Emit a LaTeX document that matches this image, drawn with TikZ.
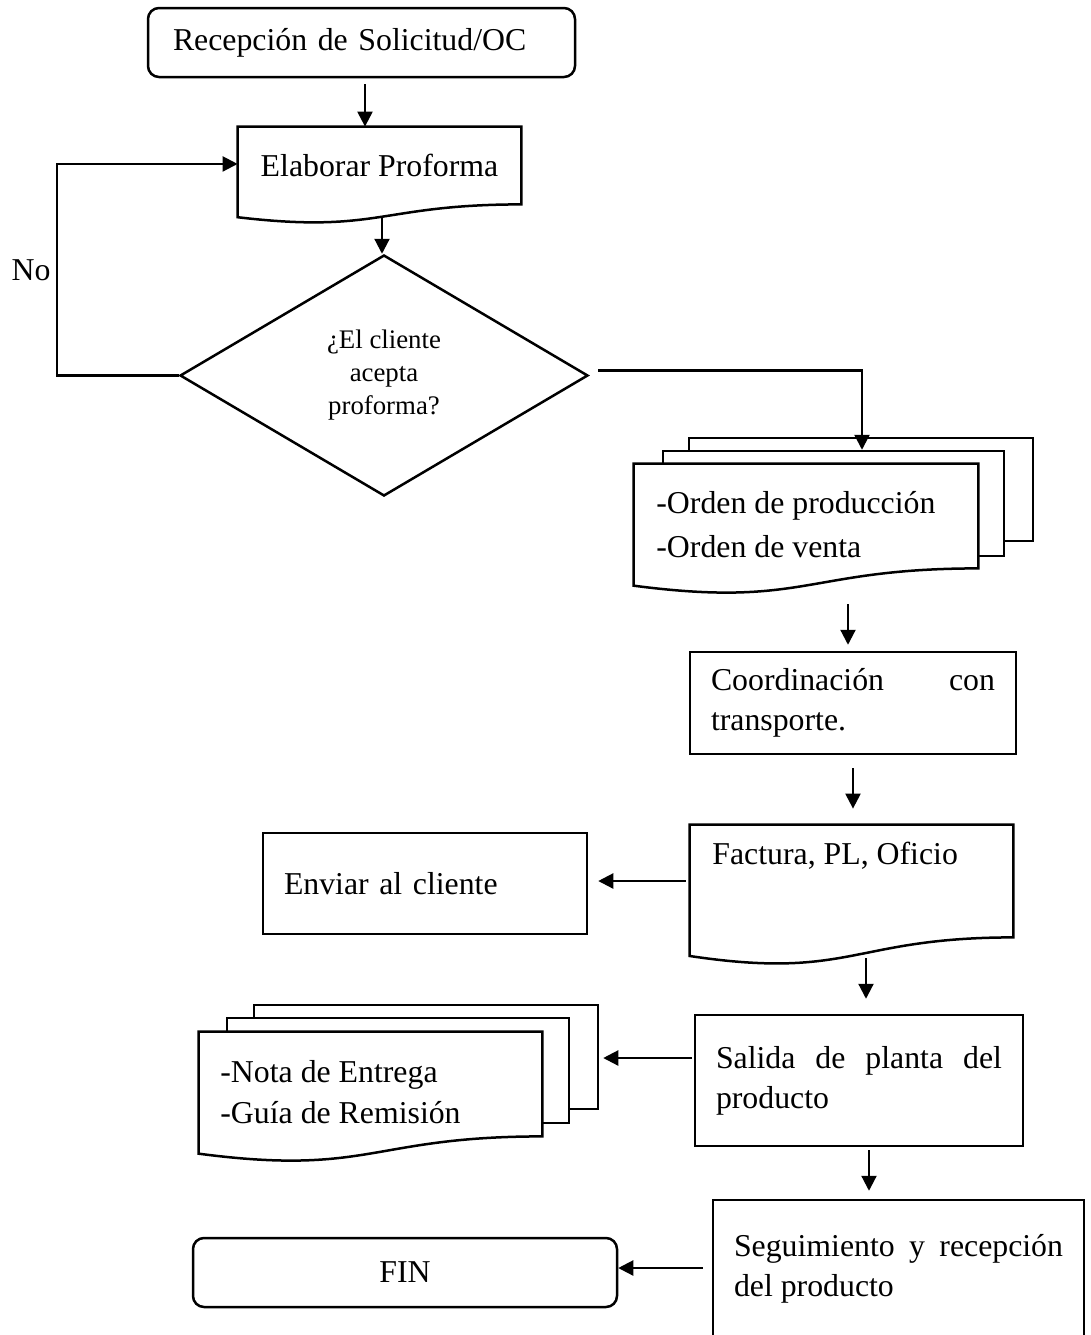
\documentclass[tikz,border=0pt]{standalone}
\usepackage{fontspec}
\setmainfont{Liberation Serif}
\usetikzlibrary{arrows.meta,shapes.geometric,calc}
\hyphenpenalty=10000
\exhyphenpenalty=10000
\newcommand{\docwave}[2][]{%
  \draw[shapeline,#1] (#2.north west) -- (#2.north east) -- (#2.south east)
    .. controls (#2.south) and ($(#2.north)!1.3803!(#2.south)$) ..
    ($(#2.north west)!1.1646!(#2.south west)$) -- cycle;}
\tikzset{
  shapeline/.style={line width=1.25pt, line join=miter},
  box/.style={draw, line width=1.25pt, inner sep=0pt},
  holder/.style={inner sep=0pt},
  txt/.style={font=\fontsize{15.9}{20}\selectfont},
  txtonly/.style={inner sep=0pt, anchor=west, align=left},
  sheet/.style={draw, fill=white, line width=1.25pt, inner sep=0pt},
  arr/.style={line width=1.1pt, -{Triangle[length=7.5pt,width=7.5pt]}},
}
\begin{document}
\begin{tikzpicture}[x=0.5pt,y=-0.5pt]
\useasboundingbox (0,0) rectangle (1091,1335);
\clip (0,0) rectangle (1091,1335);

% start
\node[box, txt, rounded corners=5.5pt, minimum width=213.5pt, minimum height=34.5pt, text width=188.5pt, align=left] (start) at (361.5,42.5) {Recepción de Solicitud/OC};

% elaborar proforma (document)
\node[holder, txt, minimum width=141.5pt, minimum height=38.5pt] (elab) at (379.5,165.5) {Elaborar Proforma};
\docwave{elab}

% decision
\node[draw, diamond, line width=1.25pt, minimum width=204pt, minimum height=120.5pt, inner sep=0pt, align=center, font=\fontsize{13.4}{16.5}\selectfont] (dia) at (384,375.5) {¿El cliente\\acepta\\proforma?};

\node[txt, inner sep=0pt] (no) at (31,270) {No};

% multi-document 1
\node[sheet, minimum width=172pt, minimum height=51.5pt] (d1b) at (861,489.5) {};
\node[sheet, minimum width=170.5pt, minimum height=52.5pt] (d1m) at (833.5,503.5) {};
\node[holder, minimum width=172pt, minimum height=52pt] (d1f) at (806,516) {};
\docwave[fill=white]{d1f}
\node[txtonly, font=\fontsize{15.9}{22}\selectfont] (d1t) at (656,525) {-Orden de producción\\-Orden de venta};

% coordinacion
\node[box, txt, minimum width=163pt, minimum height=51pt, text width=142pt, align=justify] (coord) at (853,703) {Coordinación con transporte.};

% factura (document)
\node[holder, minimum width=161.5pt, minimum height=56pt] (fact) at (851.5,881) {};
\docwave{fact}
\node[txtonly, txt] (ft) at (712,856) {Factura, PL, Oficio};

% enviar
\node[box, txt, minimum width=162pt, minimum height=50.5pt, text width=141pt, align=left] (env) at (425,883.5) {Enviar al cliente};

% salida
\node[box, txt, minimum width=164pt, minimum height=65.5pt, text width=143pt, align=justify] (sal) at (859,1080.5) {Salida de planta del producto};

% multi-document 2
\node[sheet, minimum width=172pt, minimum height=52pt] (d2b) at (426,1057) {};
\node[sheet, minimum width=171pt, minimum height=52.5pt] (d2m) at (398,1070.5) {};
\node[holder, minimum width=171.5pt, minimum height=52pt] (d2f) at (370.5,1084) {};
\docwave[fill=white]{d2f}
\node[txtonly, font=\fontsize{15.9}{20.5}\selectfont] (d2t) at (220,1092.5) {-Nota de Entrega\\-Guía de Remisión};

% seguimiento
\node[box, txt, minimum width=185.5pt, minimum height=69pt, text width=164.5pt, align=justify] (seg) at (898.5,1269) {Seguimiento y recepción del producto};

% fin
\node[box, txt, rounded corners=5.5pt, minimum width=212pt, minimum height=34.5pt] (fin) at (405,1272.5) {FIN};

% connectors
\coordinate (a1) at ($(start.south)+(3.5,0)$);
\draw[arr, shorten <=3pt] (a1) -- (a1 |- elab.north);

\coordinate (a2) at ($(elab.north)!1.163!(elab.south)+(2.5,0)$);
\draw[arr] (a2) -- (a2 |- dia.north);

\coordinate (nox) at (57,0);
\coordinate (elabin) at ($(elab.north west)!0.48!(elab.south west)$);
\draw[arr] (dia.west) -- (dia.west -| nox) |- (elabin);

\coordinate (yes0) at ($(dia.east)+(9,-5)$);
\coordinate (yes1) at ($(d1m.north)+(28.5,0)$);
\draw[arr] (yes0) -| (yes1);

\coordinate (a6) at ($(coord.north)+(-5,0)$);
\draw[arr, shorten <=18pt, shorten >=3pt] (a6 |- d1f.south) -- (a6);

\draw[arr, shorten <=6.5pt, shorten >=8pt] (coord.south) -- (coord.south |- fact.north);

\draw[arr, shorten <=2pt, shorten >=5pt] (fact.west) -- (fact.west -| env.east);

\coordinate (a9) at ($(sal.north)+(7,0)$);
\draw[arr, shorten <=10.5pt, shorten >=7.5pt] (a9 |- fact.south) -- (a9);

\coordinate (a10) at ($(sal.west)+(0,-22.5)$);
\draw[arr, shorten <=1pt, shorten >=2pt] (a10) -- (a10 -| d2b.east);

\coordinate (a11) at ($(sal.south)+(10,0)$);
\draw[arr, shorten <=1.5pt, shorten >=4pt] (a11) -- (a11 |- seg.north);

\coordinate (a12) at ($(seg.west)+(0,-1)$);
\draw[arr, shorten <=4.5pt] (a12) -- (a12 -| fin.east);
\end{tikzpicture}
\end{document}
